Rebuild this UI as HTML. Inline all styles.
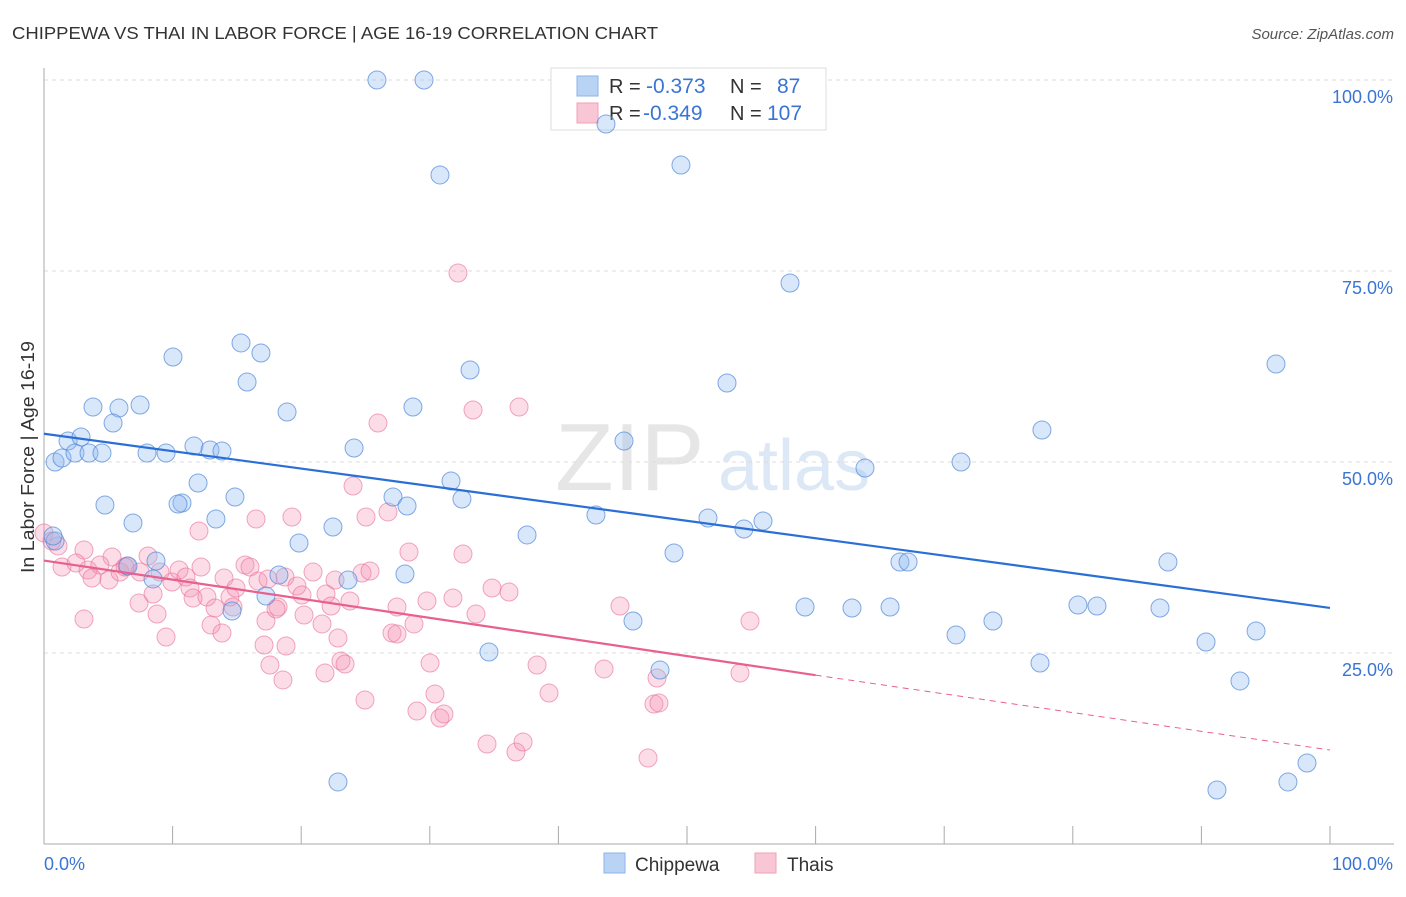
<!DOCTYPE html>
<html><head><meta charset="utf-8"><style>
body{margin:0;background:#fff;font-family:"Liberation Sans",sans-serif;}
svg text{font-family:"Liberation Sans",sans-serif;}
</style></head><body>
<svg id="chart" width="1406" height="892" xmlns="http://www.w3.org/2000/svg">
<text x="12" y="39" font-size="17.5" fill="#333" textLength="646" lengthAdjust="spacingAndGlyphs">CHIPPEWA VS THAI IN LABOR FORCE | AGE 16-19 CORRELATION CHART</text>
<text x="1394" y="39" font-size="15" fill="#555" text-anchor="end" font-style="italic">Source: ZipAtlas.com</text>
<text x="555" y="490" font-size="96" fill="#e6e6e6" font-family="Liberation Serif,serif">ZIP</text>
<text x="718" y="490" font-size="72" fill="#dce8f6">atlas</text>
<g id="grid"></g>
<g id="axes"></g>
<g>
<rect x="551" y="68" width="275" height="62" fill="#fff" stroke="#ddd"/>
<rect x="577" y="76" width="21" height="20" fill="#b9d3f5" stroke="#8db3ea"/>
<rect x="577" y="103" width="21" height="20" fill="#f9c6d5" stroke="#f1a0ba"/>
<text x="609" y="93" font-size="20" fill="#333">R = </text><text x="646" y="93" font-size="21" fill="#3a74d4">-0.373</text>
<text x="730" y="93" font-size="20" fill="#333">N = </text><text x="777" y="93" font-size="21" fill="#3a74d4">87</text>
<text x="609" y="120" font-size="20" fill="#333">R = </text><text x="643" y="120" font-size="21" fill="#3a74d4">-0.349</text>
<text x="730" y="120" font-size="20" fill="#333">N = </text><text x="767" y="120" font-size="21" fill="#3a74d4">107</text>
</g>
<g id="pts"></g>
<g id="trends"></g>
<text transform="translate(34,457) rotate(-90)" font-size="18" fill="#333" text-anchor="middle" textLength="232" lengthAdjust="spacingAndGlyphs">In Labor Force | Age 16-19</text>
<g>
<rect x="604" y="853" width="21" height="20" fill="#b9d3f5" stroke="#8db3ea"/>
<text x="635" y="871" font-size="19" fill="#333">Chippewa</text>
<rect x="755" y="853" width="21" height="20" fill="#f9c6d5" stroke="#f1a0ba"/>
<text x="787" y="871" font-size="19" fill="#333">Thais</text>
</g>
</svg>
<script>
const yTicks=[25,50,75,100];
const yTickLabels=["25.0%","50.0%","75.0%","100.0%"];
const xTicks=[0,10,20,30,40,50,60,70,80,90,100];
const chippewaPx=[[377,80],[424,80],[606,124],[440,175],[681,165],[790,283],[173,357],[241,343],[261,353],[247,382],[1276,364],[470,370],[727,383],[93,407],[119,408],[140,405],[287,412],[413,407],[113,423],[68,441],[81,437],[55,462],[62,458],[75,453],[89,453],[102,453],[147,453],[166,453],[194,446],[210,450],[222,451],[354,448],[624,441],[1042,430],[961,462],[865,468],[451,481],[393,497],[462,499],[407,506],[105,505],[182,503],[178,504],[198,483],[235,497],[216,519],[133,523],[333,527],[299,543],[527,535],[596,515],[708,518],[744,529],[763,521],[674,553],[900,562],[908,562],[1168,562],[156,561],[279,575],[128,566],[153,579],[348,580],[405,574],[266,596],[232,611],[633,621],[805,607],[852,608],[890,607],[1078,605],[1097,606],[1160,608],[993,621],[956,635],[1206,642],[1256,631],[489,652],[660,670],[1040,663],[1240,681],[338,782],[1217,790],[1288,782],[1307,763],[55,541],[53,536]];
const thaisPx=[[458,273],[378,423],[473,410],[519,407],[353,486],[388,512],[256,519],[366,517],[292,517],[199,531],[148,556],[409,552],[463,554],[84,550],[112,557],[62,567],[76,563],[88,570],[100,565],[92,578],[109,580],[120,572],[127,566],[140,572],[160,572],[172,582],[179,570],[186,577],[201,567],[224,578],[245,565],[250,567],[258,581],[268,579],[313,572],[362,573],[370,571],[335,580],[285,577],[297,586],[326,594],[331,606],[350,601],[190,588],[193,598],[207,597],[230,597],[236,588],[302,595],[397,607],[427,601],[453,598],[492,588],[509,592],[215,608],[233,607],[278,607],[304,615],[139,603],[157,614],[166,637],[211,625],[222,633],[266,621],[276,609],[322,624],[338,638],[392,633],[397,634],[414,624],[476,614],[620,606],[750,621],[286,646],[264,645],[341,661],[345,664],[270,665],[283,680],[325,673],[430,663],[537,665],[604,669],[657,678],[740,673],[435,694],[549,693],[365,700],[417,711],[440,718],[444,714],[654,704],[659,703],[487,744],[516,752],[523,742],[648,758],[84,619],[44,533],[52,541],[58,546],[153,594],[125,567]];
const chippewa=chippewaPx.map(p=>[+((p[0]-44)/12.86).toFixed(2),+((844-p[1])/7.64).toFixed(2)]);
const thais=thaisPx.map(p=>[+((p[0]-44)/12.86).toFixed(2),+((844-p[1])/7.64).toFixed(2)]);
const blueTrend=[[0,53.7],[100,30.9]];
const pinkTrend=[[0,37.1],[60,22.1],[100,12.3]];
const X=v=>44+v*12.86, Y=v=>844-v*7.64;
const NS="http://www.w3.org/2000/svg";
function mk(tag,attrs,parent){const e=document.createElementNS(NS,tag);for(const k in attrs)e.setAttribute(k,attrs[k]);parent.appendChild(e);return e;}
const grid=document.getElementById('grid'),axes=document.getElementById('axes');
yTicks.forEach((t,i)=>{
 const l=mk('line',{x1:44,x2:1394,y1:Y(t),y2:Y(t),stroke:'#ddd','stroke-dasharray':'4,4'},grid);
 
 
 const tx=mk('text',{x:1393,y:Y(t)+23,'font-size':18,fill:'#3a74d4','text-anchor':'end'},axes);
 tx.textContent=yTickLabels[i];
 
 
});
const ax=mk('line',{x1:44,x2:1394,y1:844,y2:844,stroke:'#aaa'},axes);


const ay=mk('line',{x1:44,x2:44,y1:68,y2:844,stroke:'#aaa'},axes);


xTicks.forEach(t=>{
 const l=mk('line',{x1:X(t),x2:X(t),y1:826,y2:844,stroke:'#aaa'},axes);
 
 
});
const x0=mk('text',{x:44,y:870,'font-size':18,fill:'#3a74d4'},axes);x0.textContent='0.0%';


const x1=mk('text',{x:1393,y:870,'font-size':18,fill:'#3a74d4','text-anchor':'end'},axes);x1.textContent='100.0%';


const pts=document.getElementById('pts');
thais.forEach(d=>{
 const c=mk('circle',{cx:X(d[0]),cy:Y(d[1]),r:9,fill:'rgba(244,143,177,0.3)',stroke:'rgba(232,110,150,0.6)','stroke-width':1},pts);
 
 
});
chippewa.forEach(d=>{
 const c=mk('circle',{cx:X(d[0]),cy:Y(d[1]),r:9,fill:'rgba(144,186,240,0.35)',stroke:'rgba(80,135,215,0.7)','stroke-width':1},pts);
 
 
});
const tr=document.getElementById('trends');
const bl=mk('line',{x1:X(blueTrend[0][0]),y1:Y(blueTrend[0][1]),x2:X(blueTrend[1][0]),y2:Y(blueTrend[1][1]),stroke:'#2a6fd6','stroke-width':2.2},tr);


const pl=mk('line',{x1:X(pinkTrend[0][0]),y1:Y(pinkTrend[0][1]),x2:X(pinkTrend[1][0]),y2:Y(pinkTrend[1][1]),stroke:'#e8608e','stroke-width':2.2},tr);


const pd=mk('line',{x1:X(pinkTrend[1][0]),y1:Y(pinkTrend[1][1]),x2:X(pinkTrend[2][0]),y2:Y(pinkTrend[2][1]),stroke:'#e8608e','stroke-width':1,'stroke-dasharray':'6,5'},tr);


</script>
</body></html>
